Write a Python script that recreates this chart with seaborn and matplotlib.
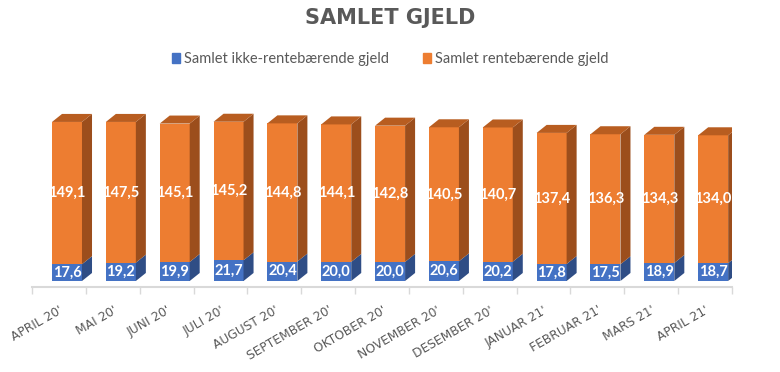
import numpy as np
import pandas as pd
import matplotlib.pyplot as plt
from matplotlib.patches import Polygon, Patch
import seaborn as sns

# Data
maaneder = ["APRIL 20'", "MAI 20'", "JUNI 20'", "JULI 20'", "AUGUST 20'", "SEPTEMBER 20'",
            "OKTOBER 20'", "NOVEMBER 20'", "DESEMBER 20'", "JANUAR 21'", "FEBRUAR 21'",
            "MARS 21'", "APRIL 21'"]
ikke_rentebaerende = [17.6, 19.2, 19.9, 21.7, 20.4, 20.0, 20.0, 20.6, 20.2, 17.8, 17.5, 18.9, 18.7]
rentebaerende = [149.1, 147.5, 145.1, 145.2, 144.8, 144.1, 142.8, 140.5, 140.7, 137.4, 136.3, 134.3, 134.0]

df = pd.DataFrame({'maaned': maaneder,
                   'ikke': ikke_rentebaerende,
                   'rente': rentebaerende})
df['total'] = df['ikke'] + df['rente']

sns.set_theme(style="white")
plt.rcParams['font.family'] = ['Lato', 'DejaVu Sans']

blaa, oransje = '#4472C4', '#ED7D31'
blaa_side = '#2F4D85'
oransje_side, oransje_topp = '#9C4E1C', '#B85D20'
graa = '#595959'

fig = plt.figure(figsize=(7.8, 3.72), dpi=100)
ax = fig.add_axes([32 / 780, 1 - 287 / 372, 700 / 780, 187 / 372])

bredde = 0.557
sns.barplot(data=df, x='maaned', y='total', color=oransje, width=bredde,
            saturation=1, ax=ax, edgecolor='none')
sns.barplot(data=df, x='maaned', y='ikke', color=blaa, width=bredde,
            saturation=1, ax=ax, edgecolor='none')

ax.set_xlim(-0.65, 12.35)
ax.set_ylim(-6.3, 189.7)

# 3D-effekt: side og topp
dx, dy = 0.186, 8.4
for i, rad in df.iterrows():
    x1 = i + bredde / 2
    x0 = i - bredde / 2
    ax.add_patch(Polygon([(x1, 0), (x1 + dx, dy), (x1 + dx, rad['ikke'] + dy), (x1, rad['ikke'])],
                         closed=True, facecolor=blaa_side, edgecolor='none', zorder=1))
    ax.add_patch(Polygon([(x1, rad['ikke']), (x1 + dx, rad['ikke'] + dy),
                          (x1 + dx, rad['total'] + dy), (x1, rad['total'])],
                         closed=True, facecolor=oransje_side, edgecolor='none', zorder=1))
    ax.add_patch(Polygon([(x0, rad['total']), (x1, rad['total']),
                          (x1 + dx, rad['total'] + dy), (x0 + dx, rad['total'] + dy)],
                         closed=True, facecolor=oransje_topp, edgecolor='none', zorder=1))
    ax.text(i, rad['ikke'] / 2, f"{rad['ikke']:.1f}".replace('.', ','), ha='center', va='center',
            color='white', fontsize=10.5, fontweight='bold')
    ax.text(i, rad['ikke'] + rad['rente'] / 2, f"{rad['rente']:.1f}".replace('.', ','),
            ha='center', va='center', color='white', fontsize=10.5, fontweight='bold')

# Akser
sns.despine(ax=ax, left=True, top=True, right=True)
ax.spines['bottom'].set_color('#D9D9D9')
ax.spines['bottom'].set_linewidth(1.5)
ax.set_yticks([])
ax.set_xlabel('')
ax.set_ylabel('')
ax.set_xticks(np.arange(len(maaneder)) - 0.15)
ax.set_xticklabels(maaneder, rotation=30, ha='right', rotation_mode='anchor',
                   color=graa, fontsize=8.8, family=['DejaVu Sans'])
ax.set_xticks(np.arange(len(maaneder) + 1) - 0.65, minor=True)
ax.tick_params(axis='x', which='major', length=0, pad=12)
ax.tick_params(axis='x', which='minor', length=5, color='#D9D9D9', width=1, bottom=True)

fig.text(0.5, 1 - 18 / 372, 'SAMLET GJELD', ha='center', va='center',
         fontsize=15, fontweight='bold', color=graa, family=['DejaVu Sans'])

handles = [Patch(color=blaa), Patch(color=oransje)]
fig.legend(handles, ['Samlet ikke-rentebærende gjeld', 'Samlet rentebærende gjeld'],
           loc='center', bbox_to_anchor=(0.5, 1 - 59 / 372), ncol=2, frameon=False,
           fontsize=10.5, labelcolor=graa, handlelength=0.55, handleheight=0.75,
           handletextpad=0.3, columnspacing=2.3)

fig.savefig('out.png', dpi=100)
